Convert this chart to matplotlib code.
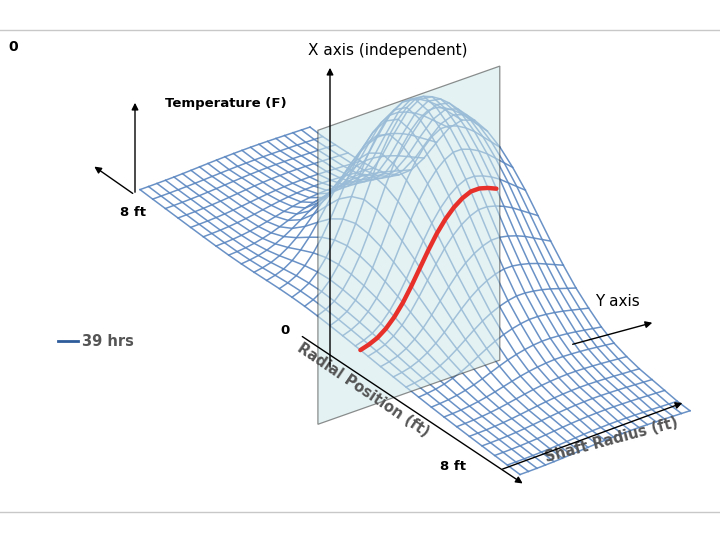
import numpy as np
import matplotlib
matplotlib.use("Agg")
import matplotlib.pyplot as plt
from matplotlib.patches import FancyArrowPatch, Polygon

# Relative temperature along radial position (31 grid lines, back-left -> front)
radial_profile = [0.02, 0.02, 0.03, 0.04, 0.05, 0.07, 0.10, 0.16, 0.27, 0.43, 0.62, 0.80,
                  0.93, 1.00, 0.99, 0.94, 0.86, 0.76, 0.64, 0.52, 0.41, 0.31, 0.23, 0.16,
                  0.11, 0.08, 0.06, 0.05, 0.04, 0.03, 0.03]
# Relative temperature along shaft radius (21 grid lines, front -> back)
shaft_profile = [0.04, 0.06, 0.09, 0.14, 0.21, 0.30, 0.41, 0.53, 0.65, 0.76, 0.85, 0.92,
                 0.97, 1.00, 1.00, 0.98, 0.95, 0.91, 0.86, 0.81, 0.76]
slice_u = 0.58      # position of the cutting plane along the radial grid
slice_vmax = 0.8
peak_height = 175   # px

U = np.linspace(0, 1, len(radial_profile))
V = np.linspace(0, 1, len(shaft_profile))
Z = np.outer(radial_profile, shaft_profile) + 0.03

# oblique projection into pixel space
P0 = np.array([140.0, 195.0]); DU = np.array([380.0, 285.0]); DV = np.array([170.0, -60.0])
def proj(u, v, z):
    x = P0[0] + u * DU[0] + v * DV[0]
    y = P0[1] + u * DU[1] + v * DV[1] - z * peak_height
    return x, y

fig = plt.figure(figsize=(7.2, 5.4), dpi=100)
ax = fig.add_axes([0, 0, 1, 1])
ax.set_xlim(0, 720); ax.set_ylim(540, 0); ax.axis("off")

UU, VV = np.meshgrid(U, V, indexing="ij")
X, Y = proj(UU, VV, Z)
mesh = "#5a86c0"
for i in range(len(U)):
    ax.plot(X[i, :], Y[i, :], color=mesh, lw=1.1, alpha=0.9, zorder=2)
for j in range(len(V)):
    ax.plot(X[:, j], Y[:, j], color=mesh, lw=1.1, alpha=0.9, zorder=2)

# cutting plane
pv = np.array([-0.25, 0.82, 0.82, -0.25])
pz = np.array([1.4, 1.4, -0.28, -0.28])
px, py = proj(slice_u, pv, pz)
ax.add_patch(Polygon(np.column_stack([px, py]), closed=True, facecolor="#cfe8ea", alpha=0.55,
                     edgecolor="#333333", lw=0.9, zorder=3))

# red slice line
sv = V[V <= slice_vmax + 1e-9]
sz = np.interp(slice_u, U, radial_profile) * np.array(shaft_profile[:len(sv)]) + 0.03
rx, ry = proj(slice_u, sv, sz)
ax.plot(rx, ry, color="#e8302a", lw=3.2, zorder=5, solid_capstyle="round")

# frame lines
ax.plot([0, 720], [30, 30], color="#c8c8c8", lw=1)
ax.plot([0, 720], [512, 512], color="#c8c8c8", lw=1)

arr = dict(arrowstyle="-|>", color="black", lw=1, mutation_scale=10, zorder=6)
for (x1, y1, x2, y2) in [(330, 370, 330, 65), (570, 345, 655, 322), (135, 195, 135, 100),
                         (135, 195, 92, 165), (300, 335, 525, 485), (500, 470, 685, 402)]:
    ax.add_patch(FancyArrowPatch((x1, y1), (x2, y2), **arr))

ax.text(8, 47, "0", fontsize=10, fontweight="bold", va="center")
ax.text(308, 50, "X axis (independent)", fontsize=11, va="center")
ax.text(595, 302, "Y axis", fontsize=11, va="center")
ax.text(165, 103, "Temperature (F)", fontsize=9.5, fontweight="bold", va="center")
ax.text(120, 213, "8 ft", fontsize=9.5, fontweight="bold", va="center")
ax.text(280, 330, "0", fontsize=9.5, fontweight="bold", va="center")
ax.text(440, 466, "8 ft", fontsize=9.5, fontweight="bold", va="center")
ax.text(303, 340, "Radial Position (ft)", fontsize=10.5, fontweight="bold", color="#555555",
        rotation=-34, rotation_mode="anchor", va="top", ha="left")
ax.text(547, 465, "Shaft Radius (ft)", fontsize=10.5, fontweight="bold", color="#555555",
        rotation=15, rotation_mode="anchor", va="bottom", ha="left")
ax.plot([58, 78], [341, 341], color="#2e5c9a", lw=2)
ax.text(82, 341, "39 hrs", fontsize=10.5, fontweight="bold", color="#555555", va="center")

fig.savefig("out.png", dpi=100)
